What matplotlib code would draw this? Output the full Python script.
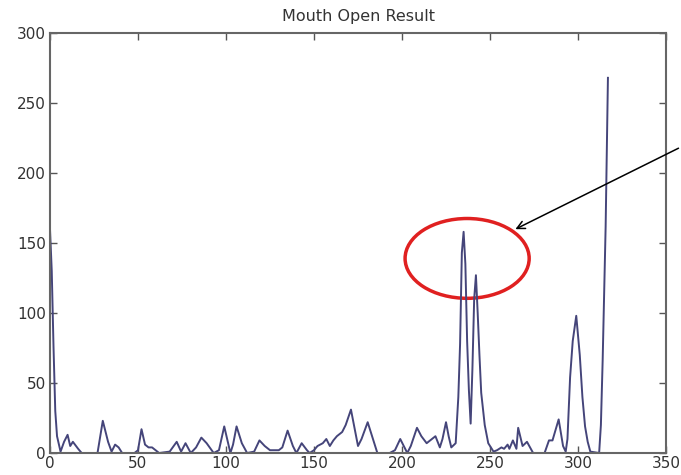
import matplotlib
matplotlib.use('Agg')
import matplotlib.pyplot as plt
from matplotlib.patches import Ellipse

# frame index and mouth-open measure
frame = [0, 1, 2, 3, 4, 6, 8, 10, 11.5, 13, 16, 18, 27, 30, 33, 35, 37, 39, 41, 48,
         50, 52, 54, 56, 58, 60, 62, 68, 72, 74.5, 77, 80, 83, 86, 89, 93, 96, 99,
         101, 102.5, 104, 106, 109, 112, 116, 119, 122, 125, 130, 132, 135, 138,
         140, 143, 146, 147.5, 150, 152, 155, 157, 159, 161, 163, 166, 168, 171,
         173, 175, 177, 180.5, 183, 186, 193, 196, 199, 201, 203, 205, 208.5, 211,
         214, 216, 219, 221.5, 223, 225, 226.5, 228, 230.5, 232, 233, 234, 235,
         236, 237, 238, 239, 240, 241, 242, 243, 244, 245, 247, 249, 251, 252,
         254, 256.5, 258, 260, 261, 263, 265, 266, 268.5, 271, 274.5, 281, 283.5,
         285.5, 289, 291.5, 293, 294, 295.5, 297, 299, 301, 302.5, 304, 305.5,
         307, 312, 313, 314, 315.7, 317]
value = [160, 130, 76, 30, 12, 1, 8, 13, 5, 8, 3, 0, 0, 23, 8, 1, 6, 4, 0, 0,
         2, 17, 6, 4, 4, 2, 0, 1, 8, 1, 7, 0, 4, 11, 7, 0, 2, 19,
         8, 0, 6, 19, 7, 0, 1, 9, 5, 2, 2, 4, 16, 5,
         0, 7, 2, 0, 2, 5, 7, 10, 5, 9, 12, 15, 20, 31,
         18, 5, 10, 22, 12, 0, 0, 2, 10, 5, 0, 5, 18, 12,
         7, 9, 12, 4, 10, 22, 12, 4, 7, 40, 78, 143, 158,
         135, 80, 45, 21, 60, 110, 127, 100, 70, 43, 20, 7, 3, 1,
         2, 4, 3, 6, 3, 9, 3, 18, 5, 8, 0, 0, 9,
         9, 24, 5, 1, 10, 54, 80, 98, 70, 40, 19, 8,
         1, 0, 20, 66, 162, 268]

xticks = [0, 50, 100, 150, 200, 250, 300, 350]
yticks = [0, 50, 100, 150, 200, 250, 300]

fig = plt.figure(figsize=(6.81, 4.75), dpi=100)
ax = fig.add_axes([0.0734, 0.0463, 0.9046, 0.8842])

ax.plot(frame, value, color='#45457a', linewidth=1.4)

ax.set_xlim(0, 350)
ax.set_ylim(0, 300)
ax.set_xticks(xticks)
ax.set_yticks(yticks)
ax.tick_params(direction='in', length=5, width=1, colors='#555555',
               labelcolor='#333333', labelsize=11, top=True, right=True)
ax.tick_params(axis='x', pad=2)
ax.tick_params(axis='y', pad=3)
for s in ax.spines.values():
    s.set_color('#666666')
    s.set_linewidth(1.5)

ax.set_title('Mouth Open Result', fontsize=11.5, color='#333333', pad=9)

# red ring around the twin peaks
ring = Ellipse((237, 139), 70.5, 57, fill=False, edgecolor='#e02020', linewidth=2.5)
ax.add_patch(ring)

ax.annotate('', xy=(263, 159), xytext=(358.5, 218.6),
            arrowprops=dict(arrowstyle='->', color='black', lw=1.1,
                            mutation_scale=14),
            annotation_clip=False)

plt.savefig('out.png', dpi=100)
